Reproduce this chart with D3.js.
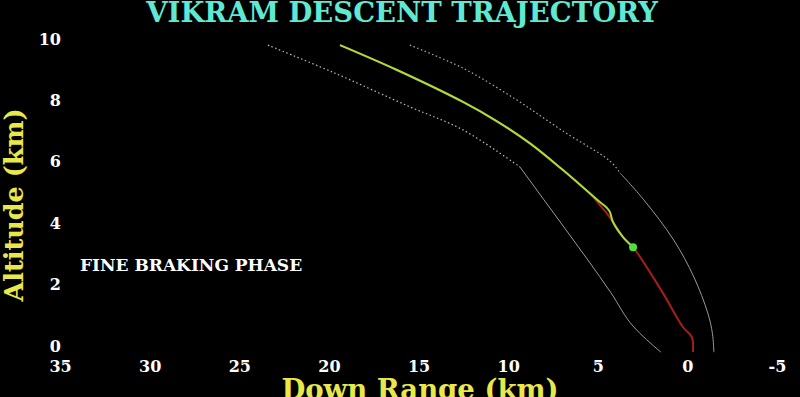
<!DOCTYPE html>
<html>
<head>
<meta charset="utf-8">
<script src="https://cdn.jsdelivr.net/npm/d3@7"></script>
<style>
  html, body { margin: 0; padding: 0; background: #000; }
  svg { display: block; }
</style>
</head>
<body>
<svg id="chart" width="800" height="397"></svg>
<script>
(function() {

  // axis ticks
  var xTicks = [35, 30, 25, 20, 15, 10, 5, 0, -5];
  var yTicks = [0, 2, 4, 6, 8, 10];

  // planned path (red), down range km / altitude km
  var plannedX = [19.38, 16.2, 12.52, 10.62, 8.78, 6.94, 5.46, 4.88, 4.43, 4.15, 3.59, 3.03, 1.37, 0.25, -0.25, -0.31];
  var plannedY = [9.8, 8.99, 7.95, 7.32, 6.6, 5.73, 4.98, 4.59, 4.27, 4.04, 3.55, 3.22, 1.73, 0.62, 0.29, -0.2];

  // actual path (green) up to current point
  var actualX = [19.38, 16.2, 12.52, 10.62, 8.78, 6.94, 5.46, 4.88, 4.49, 4.32, 4.15, 3.59, 3.03];
  var actualY = [9.8, 8.99, 7.95, 7.32, 6.6, 5.73, 4.98, 4.69, 4.5, 4.36, 4.04, 3.55, 3.22];

  // dispersion envelope, dotted upper part then solid lower part
  var leftDotX = [23.4, 19.83, 15.48, 12.52, 9.34];
  var leftDotY = [9.8, 8.93, 7.79, 7.04, 5.83];
  var leftX = [9.34, 8.0, 5.55, 4.26, 2.99, 1.48];
  var leftY = [5.83, 4.76, 2.8, 1.73, 0.62, -0.2];

  var rightDotX = [15.48, 12.52, 9.51, 6.94, 4.31, 3.76];
  var rightDotY = [9.8, 9.05, 8.01, 7.0, 6.02, 5.64];
  var rightX = [3.76, 2.43, 0.76, -0.36, -1.14, -1.4, -1.48];
  var rightY = [5.64, 4.76, 3.45, 2.25, 1.07, 0.4, -0.2];

  var svg = d3.select('#chart');

  var x = d3.scaleLinear().domain([35, -5]).range([60, 777]);
  var y = d3.scaleLinear().domain([0, 10]).range([346, 39]);

  var zip = function(xs, ys) {
    return xs.map(function(v, i) { return [v, ys[i]]; });
  };

  var smooth = d3.line()
    .x(function(d) { return x(d[0]); })
    .y(function(d) { return y(d[1]); })
    .curve(d3.curveCatmullRom.alpha(0.5));
  var mono = d3.line()
    .x(function(d) { return x(d[0]); })
    .y(function(d) { return y(d[1]); })
    .curve(d3.curveMonotoneY);

  svg.append('rect')
    .attr('width', 800)
    .attr('height', 397)
    .style('fill', '#000');

  // title
  svg.append('text')
    .attr('x', 402)
    .attr('y', 22)
    .attr('text-anchor', 'middle')
    .style('font-family', 'DejaVu Serif')
    .style('font-weight', 'bold')
    .style('font-size', '27.5px')
    .style('fill', '#5fe8d2')
    .text('VIKRAM DESCENT TRAJECTORY');

  // x axis
  var xAxis = svg.append('g')
    .attr('transform', 'translate(0,' + 361 + ')')
    .call(d3.axisBottom(x).tickValues(xTicks).tickSize(0).tickPadding(0)
      .tickFormat(function(d) { return d < 0 ? '-' + (-d) : d; }));
  xAxis.select('.domain').remove();
  xAxis.selectAll('text')
    .attr('dy', '0.71em')
    .style('font-family', 'DejaVu Serif')
    .style('font-weight', 'bold')
    .style('font-size', '16px')
    .style('fill', '#fff');

  // y axis
  var yAxis = svg.append('g')
    .attr('transform', 'translate(' + 61 + ',0)')
    .call(d3.axisLeft(y).tickValues(yTicks).tickSize(0).tickPadding(0));
  yAxis.select('.domain').remove();
  yAxis.selectAll('text')
    .style('font-family', 'DejaVu Serif')
    .style('font-weight', 'bold')
    .style('font-size', '16px')
    .style('fill', '#fff');

  // axis titles
  svg.append('text')
    .attr('transform', 'translate(23,205) rotate(-90)')
    .attr('text-anchor', 'middle')
    .style('font-family', 'DejaVu Serif')
    .style('font-weight', 'bold')
    .style('font-size', '25.5px')
    .style('fill', '#e8e84a')
    .text('Altitude (km)');

  svg.append('text')
    .attr('x', 420)
    .attr('y', 399)
    .attr('text-anchor', 'middle')
    .style('font-family', 'DejaVu Serif')
    .style('font-weight', 'bold')
    .style('font-size', '27.5px')
    .style('fill', '#e8e84a')
    .text('Down Range (km)');

  // phase label
  svg.append('text')
    .attr('x', 80)
    .attr('y', 271)
    .style('font-family', 'DejaVu Serif')
    .style('font-weight', 'bold')
    .style('font-size', '17px')
    .style('fill', '#fff')
    .text('FINE BRAKING PHASE');

  // envelope
  var env = svg.append('g').style('fill', 'none');
  env.append('path')
    .attr('d', smooth(zip(leftDotX, leftDotY)))
    .style('stroke', '#bbb')
    .style('stroke-width', 1.2)
    .style('stroke-dasharray', '1.5,2.5');
  env.append('path')
    .attr('d', mono(zip(leftX, leftY)))
    .style('stroke', '#9a9a9a')
    .style('stroke-width', 1);
  env.append('path')
    .attr('d', smooth(zip(rightDotX, rightDotY)))
    .style('stroke', '#aaa')
    .style('stroke-width', 1.2)
    .style('stroke-dasharray', '1.5,2.5');
  env.append('path')
    .attr('d', smooth(zip(rightX, rightY)))
    .style('stroke', '#9a9a9a')
    .style('stroke-width', 1);

  // planned trajectory
  svg.append('path')
    .attr('d', smooth(zip(plannedX, plannedY)))
    .style('fill', 'none')
    .style('stroke', '#a81c1c')
    .style('stroke-width', 2);

  // actual trajectory
  svg.append('path')
    .attr('d', smooth(zip(actualX, actualY)))
    .style('fill', 'none')
    .style('stroke', '#a4e03a')
    .style('stroke-width', 2);

  svg.append('circle')
    .attr('cx', x(actualX[actualX.length - 1]))
    .attr('cy', y(actualY[actualY.length - 1]))
    .attr('r', 4)
    .style('fill', '#52e03c');

})();
</script>
</body>
</html>
